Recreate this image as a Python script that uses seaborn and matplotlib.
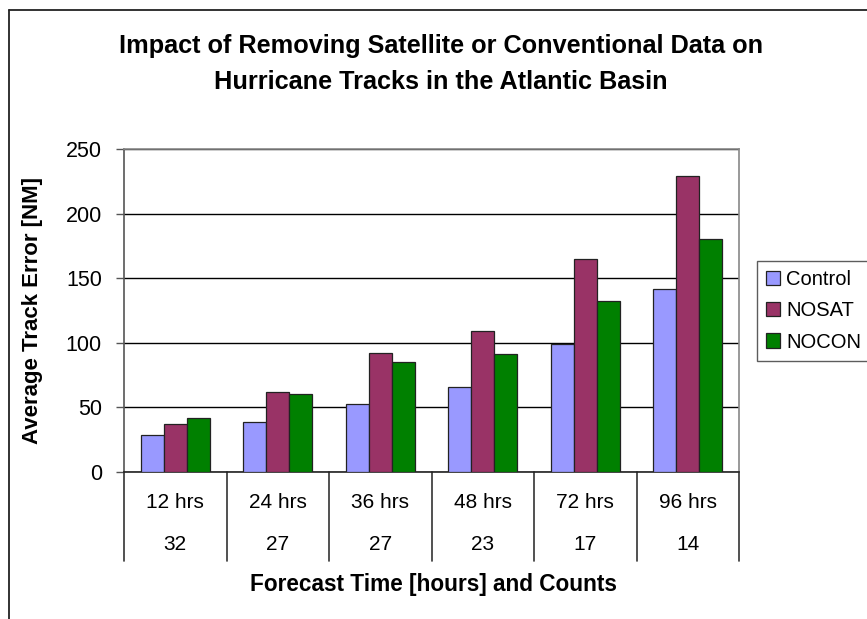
import matplotlib
matplotlib.use("Agg")
import matplotlib.pyplot as plt
import matplotlib.transforms as mtransforms
from matplotlib.lines import Line2D
import pandas as pd
import seaborn as sns

# Forecast lead times, sample counts and mean track errors (NM)
lead_times = ["12 hrs", "24 hrs", "36 hrs", "48 hrs", "72 hrs", "96 hrs"]
counts = ["32", "27", "27", "23", "17", "14"]
control = [29, 39, 53, 66, 99, 142]
nosat = [37, 62, 92, 109, 165, 229]
nocon = [42, 60, 85, 91, 132, 180]
experiments = ["Control", "NOSAT", "NOCON"]
colors = ["#9999FF", "#993366", "#008000"]

df = pd.DataFrame({
    "lead": lead_times * 3,
    "experiment": [e for e in experiments for _ in lead_times],
    "error": control + nosat + nocon,
})

sns.set_theme(style="white")
plt.rcParams["font.family"] = ["Liberation Sans", "DejaVu Sans"]
plt.rcParams["text.color"] = "black"
plt.rcParams["axes.labelcolor"] = "black"

W, H = 867, 619
fig = plt.figure(figsize=(W / 100, H / 100), dpi=100)
ax = fig.add_axes([124 / W, 1 - 472 / H, (739 - 124) / W, (472 - 149) / H])

sns.barplot(data=df, x="lead", y="error", hue="experiment", order=lead_times,
            hue_order=experiments, palette=colors, width=0.67, gap=0,
            edgecolor="#222222", linewidth=0.9, saturation=1, ax=ax,
            legend=True, zorder=3)

ax.set_ylim(0, 250)
ax.set_xlim(-0.5, len(lead_times) - 0.5)
ax.set_yticks(range(0, 251, 50))
ax.yaxis.grid(True, color="black", linewidth=1.0, zorder=0)
ax.set_axisbelow(True)
ax.tick_params(axis="y", which="both", left=True, length=6, width=1,
               color="#555555", labelsize=15.5, pad=10, labelcolor="black")
ax.tick_params(axis="x", bottom=False, labelbottom=False)
ax.set_xlabel("")
ax.set_ylabel("Average Track Error [NM]", fontsize=16, fontweight="bold",
              color="black")
ax.yaxis.set_label_coords(-0.132, 0.5)

for side, col in [("top", "#888888"), ("right", "#888888"),
                  ("left", "#555555"), ("bottom", "#222222")]:
    ax.spines[side].set_visible(True)
    ax.spines[side].set_color(col)
    ax.spines[side].set_linewidth(1.2)

# Two-level category axis: lead time over sample count, with dividers
trans = mtransforms.blended_transform_factory(ax.transData, ax.transAxes)
for i, (lt, cnt) in enumerate(zip(lead_times, counts)):
    ax.text(i, -0.095, lt, transform=trans, ha="center", va="center",
            fontsize=15, color="black")
    ax.text(i, -0.226, cnt, transform=trans, ha="center", va="center",
            fontsize=15, color="black")
for b in range(len(lead_times) + 1):
    ax.add_line(Line2D([b - 0.5, b - 0.5], [0, -0.275], transform=trans,
                       color="#333333", linewidth=1.2, clip_on=False))

fig.text(433 / W, 1 - 585 / H, "Forecast Time [hours] and Counts",
         ha="center", va="center", fontsize=16.3, fontweight="bold",
         color="black")

fig.text(441 / W, 1 - 64 / H,
         "Impact of Removing Satellite or Conventional Data on\n"
         "Hurricane Tracks in the Atlantic Basin",
         ha="center", va="center", fontsize=18.2, fontweight="bold",
         linespacing=1.68, color="black")

leg = ax.legend(loc="center left", bbox_to_anchor=(757 / W, 1 - 311 / H),
                bbox_transform=fig.transFigure, frameon=True, fancybox=False,
                fontsize=14.5, handlelength=0.7, handleheight=0.7,
                handletextpad=0.3, borderpad=0.45, labelspacing=0.6,
                borderaxespad=0)
leg.get_frame().set_edgecolor("#333333")
leg.get_frame().set_linewidth(1.0)
for t in leg.get_texts():
    t.set_color("black")

# Chart-area frame (runs off the right and bottom edges)
fig.add_artist(Line2D([9 / W, 1.01], [1 - 10 / H, 1 - 10 / H],
                      transform=fig.transFigure, color="#222222", linewidth=1.3))
fig.add_artist(Line2D([9 / W, 9 / W], [1 - 10 / H, -0.01],
                      transform=fig.transFigure, color="#222222", linewidth=1.3))

fig.savefig("out.png", dpi=100)
